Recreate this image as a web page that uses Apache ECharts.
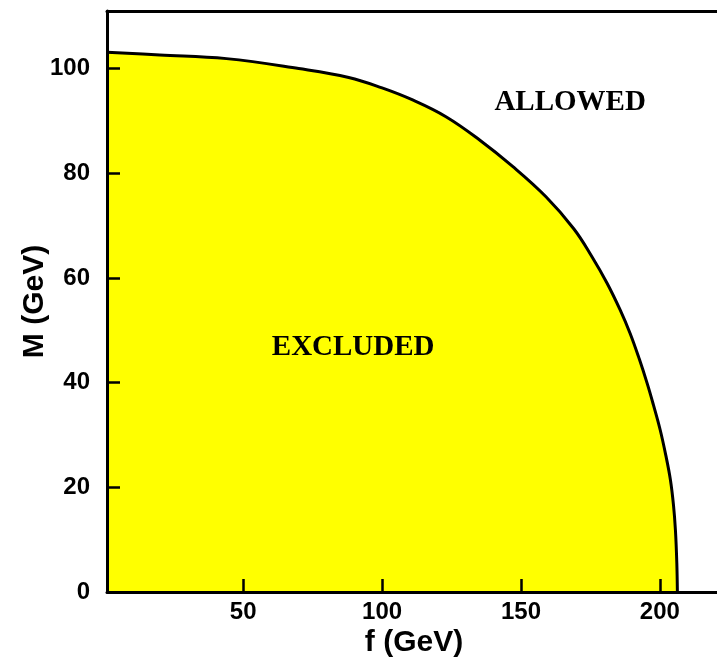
<!DOCTYPE html>
<html>
<head>
<meta charset="utf-8">
<script src="https://cdn.jsdelivr.net/npm/echarts@6/dist/echarts.min.js"></script>
<style>
html,body{margin:0;padding:0;background:#fff;}
#chart{width:717px;height:659px;}
</style>
</head>
<body>
<div id="chart"></div>
<script>
// Boundary curve of the excluded region: f (GeV) vs M (GeV)
const fValues = [1, 20, 44, 70, 88, 100, 111, 123, 135, 147, 159, 169, 175.5, 181, 185.7, 189.3, 192.6, 195.4, 197.7, 200.1, 202.1, 203.8, 204.9, 205.6, 206.1, 206.3];
const mValues = [103.1, 102.6, 101.9, 100, 98.3, 96.3, 94.0, 90.8, 86.4, 81.3, 75.5, 69.4, 64.1, 59, 53.9, 49.4, 44.5, 39.9, 35.7, 31, 26.2, 21.4, 16.6, 11.8, 5.5, 0];
const xTicks = [50, 100, 150, 200];
const yTicks = [0, 20, 40, 60, 80, 100];
const annoText = ['ALLOWED', 'EXCLUDED'];
const annoF = [167.7, 89.6];
const annoM = [93.6, 46.8];

const curve = fValues.map((f, i) => [f, mValues[i]]);
const annos = annoText.map((t, i) => ({ value: [annoF[i], annoM[i]], name: t }));

const axisFont = { fontFamily: 'Liberation Sans, Arial, sans-serif', fontWeight: 'bold', color: '#000' };

const chart = echarts.init(document.getElementById('chart'), null, { renderer: 'canvas' });
chart.setOption({
  backgroundColor: '#fff',
  animation: false,
  grid: { left: 107, right: -4, top: 11, bottom: 67, containLabel: false, outerBoundsMode: 'none' },
  xAxis: [{
    type: 'value', min: 1, max: 222, position: 'bottom', z: 10,
    name: 'f (GeV)', nameLocation: 'middle', nameGap: 36, nameMoveOverlap: false,
    nameTextStyle: Object.assign({ fontSize: 30 }, axisFont),
    axisLine: { show: true, onZero: false, lineStyle: { color: '#000', width: 3 } },
    axisTick: { show: true, inside: true, length: 13, customValues: xTicks, lineStyle: { color: '#000', width: 2.5 } },
    axisLabel: Object.assign({ fontSize: 24, margin: 8, customValues: xTicks }, axisFont),
    splitLine: { show: false }
  }, {
    type: 'value', min: 1, max: 222, position: 'top', z: 10,
    axisLine: { show: true, onZero: false, lineStyle: { color: '#000', width: 3 } },
    axisTick: { show: false }, axisLabel: { show: false }, splitLine: { show: false }
  }],
  yAxis: {
    type: 'value', min: 0, max: 111, z: 10,
    name: 'M (GeV)', nameLocation: 'middle', nameGap: 57, nameRotate: 90, nameMoveOverlap: false,
    nameTextStyle: Object.assign({ fontSize: 30 }, axisFont),
    axisLine: { show: true, onZero: false, lineStyle: { color: '#000', width: 3 } },
    axisTick: { show: true, inside: true, length: 13, customValues: yTicks, lineStyle: { color: '#000', width: 2.5 } },
    axisLabel: Object.assign({ fontSize: 24, margin: 17, customValues: yTicks }, axisFont),
    splitLine: { show: false }
  },
  series: [{
    type: 'line', data: curve, smooth: 0.4, showSymbol: false, symbol: 'none',
    lineStyle: { color: '#000', width: 3 },
    areaStyle: { color: '#ffff00', opacity: 1 },
    z: 1
  }, {
    type: 'scatter', data: annos, symbolSize: 0, silent: true, z: 5,
    itemStyle: { opacity: 1 },
    label: {
      show: true, position: 'inside', formatter: p => p.name, opacity: 1,
      fontFamily: 'Liberation Serif, Times New Roman, serif', fontWeight: 'bold', fontSize: 29, color: '#000'
    }
  }]
});
</script>
</body>
</html>
